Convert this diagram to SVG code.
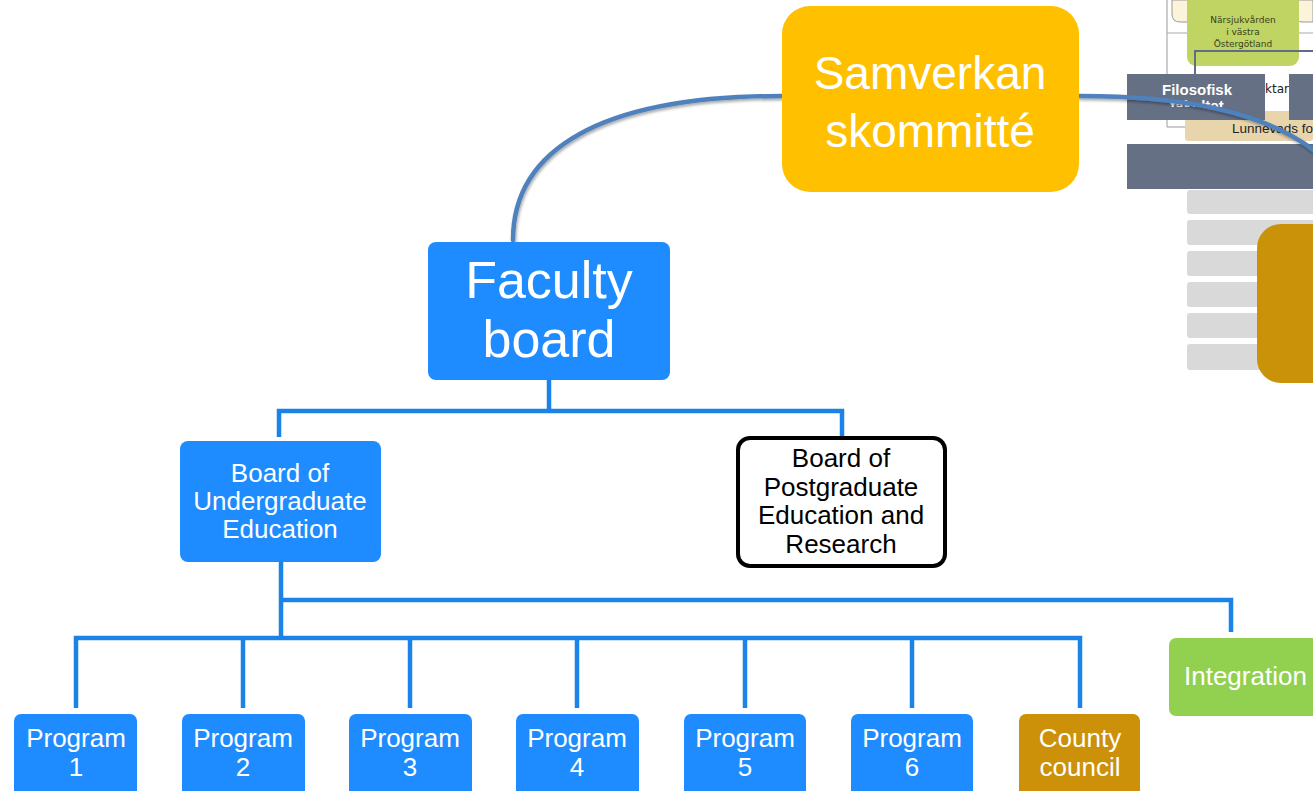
<svg xmlns="http://www.w3.org/2000/svg" width="1313" height="791" viewBox="0 0 1313 791">
<defs>
<style>
text{font-family:"Liberation Sans",Arial,sans-serif;text-anchor:middle}
.blue{fill:#1E8CFF}
.w{fill:#fff}
.t26{font-size:26px}
.small{font-family:"DejaVu Sans","Liberation Sans",sans-serif}
.wire{fill:none;stroke:#1B82E8;stroke-width:4.5;stroke-linejoin:miter}
.curve{fill:none;stroke:#4F81BD;stroke-width:4.5;stroke-linecap:round}
</style>
<clipPath id="fakclip"><rect x="1127" y="74" width="140" height="33"/></clipPath>
<filter id="sh" x="-10%" y="-10%" width="120%" height="130%"><feGaussianBlur in="SourceAlpha" stdDeviation="1.5"/><feOffset dx="1" dy="2"/><feComponentTransfer><feFuncA type="linear" slope="0.35"/></feComponentTransfer><feMerge><feMergeNode/><feMergeNode in="SourceGraphic"/></feMerge></filter>
</defs>
<rect width="1313" height="791" fill="#fff"/>

<g id="background-slide">
<path d="M1172,0 V14 Q1172,22 1180,22 H1192 V0 Z" fill="#FBF3DA" stroke="#999" stroke-width="1"/>
<path d="M1313,0 V22 H1302 Q1296,22 1296,14 V0 Z" fill="#FBF3DA" stroke="#999" stroke-width="1"/>
<line x1="1167" y1="33" x2="1313" y2="33" stroke="#aaa" stroke-width="1.2"/>
<line x1="1167" y1="0" x2="1167" y2="127" stroke="#aaa" stroke-width="1.2"/>
<line x1="1167" y1="127" x2="1190" y2="127" stroke="#aaa" stroke-width="1.2"/>
<rect x="1187" y="-10" width="112" height="76" rx="9" fill="#BFD462"/>
<text x="1243" y="23" font-size="9" fill="#3A4020" class="small">Närsjukvården</text>
<text x="1243" y="35" font-size="9" fill="#3A4020" class="small">i västra</text>
<text x="1243" y="47" font-size="9" fill="#3A4020" class="small">Östergötland</text>
<polyline points="1195,76 1195,51 1313,51" fill="none" stroke="#5E6E84" stroke-width="2"/>
<rect x="1185" y="111" width="128" height="30" rx="3" fill="#E9D5AB"/>
<text x="1232" y="133" font-size="13.5" fill="#222" style="text-anchor:start">Lunnevads fo</text>
<text x="1265" y="93" font-size="12" fill="#222" class="small" style="text-anchor:start">ktan</text>
<rect x="1127" y="74" width="138" height="46" fill="#657085"/>
<rect x="1289" y="74" width="24" height="46" fill="#657085"/>
<text x="1197" y="95" font-size="15" font-weight="bold" fill="#fff">Filosofisk</text>
<text x="1197" y="111" font-size="15" font-weight="bold" fill="#fff" clip-path="url(#fakclip)">fakultet</text>
<rect x="1127" y="144" width="186" height="45" fill="#657085"/>
<g fill="#D9D9D9">
<rect x="1187" y="190" width="130" height="24" rx="3"/>
<rect x="1187" y="220" width="130" height="25" rx="3"/>
<rect x="1187" y="251" width="130" height="25" rx="3"/>
<rect x="1187" y="282" width="130" height="25" rx="3"/>
<rect x="1187" y="313" width="130" height="25" rx="3"/>
<rect x="1187" y="344" width="130" height="26" rx="3"/>
</g>
<rect x="1257" y="224" width="90" height="159" rx="24" fill="#C99208"/>
</g>

<g id="connectors">
<path class="curve" filter="url(#sh)" d="M782,96 C600,96 513,150 513,240"/>
<path class="curve" filter="url(#sh)" d="M1079,96 C1180,96 1262,110 1316,152"/>
<polyline class="wire" points="279,437 279,411 842,411 842,437"/>
<line class="wire" x1="549" y1="380" x2="549" y2="411"/>
<line class="wire" x1="281" y1="562" x2="281" y2="638"/>
<polyline class="wire" points="281,600 1231,600 1231,632"/>
<polyline class="wire" points="76,708 76,638 1080,638 1080,708"/>
<line class="wire" x1="243" y1="638" x2="243" y2="708"/>
<line class="wire" x1="410" y1="638" x2="410" y2="708"/>
<line class="wire" x1="577" y1="638" x2="577" y2="708"/>
<line class="wire" x1="745" y1="638" x2="745" y2="708"/>
<line class="wire" x1="912" y1="638" x2="912" y2="708"/>
</g>

<g id="samverkan">
<rect x="782" y="6" width="297" height="186" rx="28" fill="#FFC000"/>
<text x="930" y="89" font-size="46" class="w">Samverkan</text>
<text x="930" y="147" font-size="46" class="w">skommitté</text>
</g>

<g id="faculty-board">
<rect x="428" y="242" width="242" height="138" rx="8" class="blue"/>
<text x="549" y="298" font-size="52" class="w">Faculty</text>
<text x="549" y="357" font-size="52" class="w">board</text>
</g>

<g id="undergrad">
<rect x="180" y="441" width="201" height="121" rx="8" class="blue"/>
<text x="280" y="482" class="t26 w">Board of</text>
<text x="280" y="510" class="t26 w">Undergraduate</text>
<text x="280" y="538" class="t26 w">Education</text>
</g>

<g id="postgrad">
<rect x="738" y="438" width="207" height="128" rx="12" fill="#fff" stroke="#000" stroke-width="4"/>
<text x="841" y="467" class="t26">Board of</text>
<text x="841" y="496" class="t26">Postgraduate</text>
<text x="841" y="524" class="t26">Education and</text>
<text x="841" y="553" class="t26">Research</text>
</g>

<g id="program1"><rect x="14" y="714" width="123" height="90" rx="7" class="blue"/><text x="76" y="747" class="t26 w">Program</text><text x="76" y="776" class="t26 w">1</text></g>
<g id="program2"><rect x="182" y="714" width="123" height="90" rx="7" class="blue"/><text x="243" y="747" class="t26 w">Program</text><text x="243" y="776" class="t26 w">2</text></g>
<g id="program3"><rect x="349" y="714" width="123" height="90" rx="7" class="blue"/><text x="410" y="747" class="t26 w">Program</text><text x="410" y="776" class="t26 w">3</text></g>
<g id="program4"><rect x="516" y="714" width="123" height="90" rx="7" class="blue"/><text x="577" y="747" class="t26 w">Program</text><text x="577" y="776" class="t26 w">4</text></g>
<g id="program5"><rect x="684" y="714" width="122" height="90" rx="7" class="blue"/><text x="745" y="747" class="t26 w">Program</text><text x="745" y="776" class="t26 w">5</text></g>
<g id="program6"><rect x="851" y="714" width="122" height="90" rx="7" class="blue"/><text x="912" y="747" class="t26 w">Program</text><text x="912" y="776" class="t26 w">6</text></g>
<g id="county-council"><rect x="1019" y="714" width="121" height="90" rx="7" fill="#CC9108"/><text x="1080" y="747" class="t26 w">County</text><text x="1080" y="776" class="t26 w">council</text></g>
<g id="integration"><rect x="1169" y="638" width="160" height="78" rx="7" fill="#92D050"/><text x="1184" y="685" class="t26 w" style="text-anchor:start">Integration</text></g>
</svg>
